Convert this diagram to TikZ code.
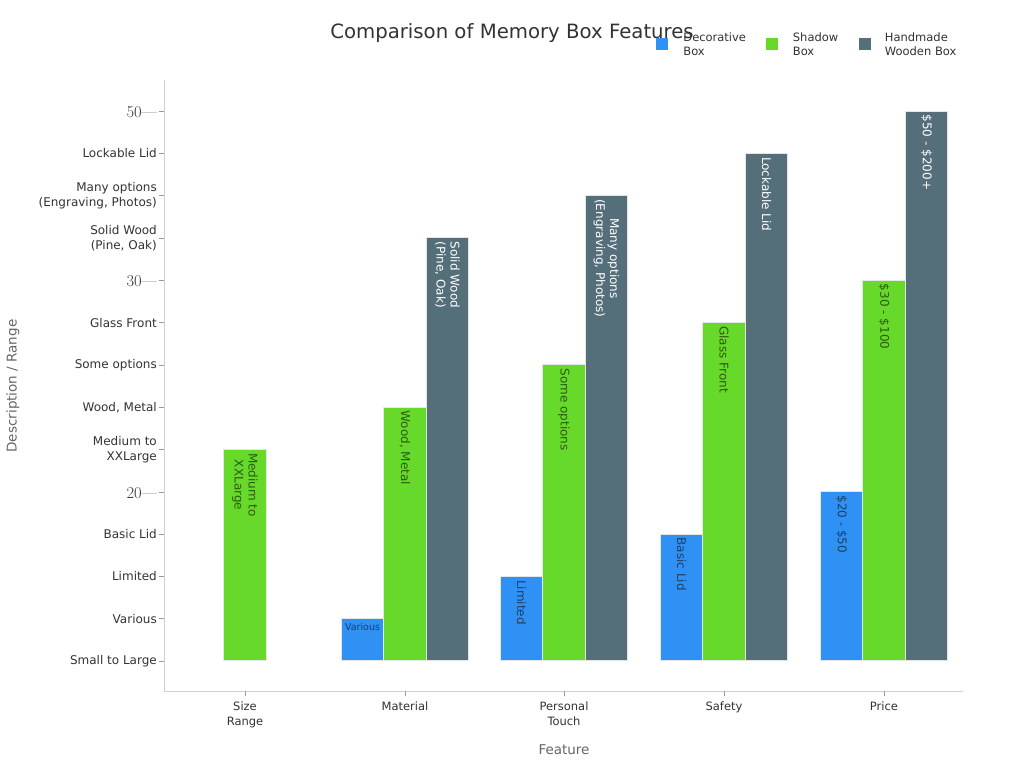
\documentclass[tikz,border=0pt]{standalone}
\usepackage{fontspec}
\usetikzlibrary{positioning}
\newfontfamily\dejavu{DejaVu Sans}
\definecolor{deco}{HTML}{3091F5}
\definecolor{shadow}{HTML}{66D92A}
\definecolor{hand}{HTML}{546E7A}
\definecolor{decotext}{HTML}{1E3F66}
\definecolor{shadowtext}{HTML}{2E5A14}
\definecolor{axisline}{HTML}{D0D0D0}
\definecolor{tickgray}{HTML}{999999}
\definecolor{darktext}{HTML}{333333}
\definecolor{softtext}{HTML}{666666}
\tikzset{
  bar/.style={draw={rgb,255:red,225;green,230;blue,232}, line width=0.6pt,
    minimum width=42.5pt, inner sep=0pt, anchor=south},
  barlabel/.style={rotate=-90, anchor=west, inner sep=0pt, align=center,
    font=\dejavu\fontsize{12}{14}\selectfont},
  ylab/.style={anchor=east, inner sep=0pt, align=right, text=darktext,
    font=\dejavu\fontsize{12}{15}\selectfont},
  ynum/.style={anchor=east, inner sep=0pt, text=darktext, font=\fontsize{16.5}{18}\selectfont},
  xlab/.style={anchor=north, inner sep=0pt, align=center, text=darktext,
    font=\dejavu\fontsize{11.5}{15}\selectfont},
  legbox/.style={minimum size=12pt, inner sep=0pt},
  legtext/.style={anchor=west, inner sep=0pt, align=left, text=darktext,
    font=\dejavu\fontsize{11.5}{14.5}\selectfont},
  tick/.style={tickgray, line width=0.6pt}
}
\begin{document}
\begin{tikzpicture}[x=1pt,y=-1pt]
  \useasboundingbox[fill=white] (0,0) rectangle (1024,768);

  % title and legend
  \node[text=darktext, font=\dejavu\fontsize{19.7}{22}\selectfont] (title) at (512,33) {Comparison of Memory Box Features};
  \node[legbox, fill=deco] (legdeco) at (662,44) {};
  \node[legtext, right=15pt of legdeco] (legdecotext) {Decorative\\Box};
  \node[legbox, fill=shadow] (legshadow) at (771.5,44) {};
  \node[legtext, right=15pt of legshadow] (legshadowtext) {Shadow\\Box};
  \node[legbox, fill=hand] (leghand) at (864.5,44) {};
  \node[legtext, right=14pt of leghand] (leghandtext) {Handmade\\Wooden Box};

  % axes
  \draw[axisline, line width=0.8pt] (164,80) -- (164,691) -- (963,691);

  % y ticks
  \begin{scope}[tick]
    \draw (159,661) -- (164,661);
    \draw (159,618.7) -- (164,618.7);
    \draw (159,576.4) -- (164,576.4);
    \draw (159,534.1) -- (164,534.1);
    \draw (159,491.8) -- (164,491.8);
    \draw (159,449.5) -- (164,449.5);
    \draw (159,407.2) -- (164,407.2);
    \draw (159,364.9) -- (164,364.9);
    \draw (159,322.6) -- (164,322.6);
    \draw (159,280.3) -- (164,280.3);
    \draw (159,238) -- (164,238);
    \draw (159,195.7) -- (164,195.7);
    \draw (159,153.4) -- (164,153.4);
    \draw (159,111.1) -- (164,111.1);
  \end{scope}
  \draw
    (157,661) node[ylab] (y0) {Small to Large}
    (157,618.7) node[ylab] (y1) {Various}
    (157,576.4) node[ylab] (y2) {Limited}
    (157,534.1) node[ylab] (y3) {Basic Lid}
    (157,493) node[ynum] (y4) {20---}
    (157,449.5) node[ylab] (y5) {Medium to\\XXLarge}
    (157,407.2) node[ylab] (y6) {Wood, Metal}
    (157,364.9) node[ylab] (y7) {Some options}
    (157,322.6) node[ylab] (y8) {Glass Front}
    (157,281.5) node[ynum] (y9) {30---}
    (157,238) node[ylab] (y10) {Solid Wood\\(Pine, Oak)}
    (157,195.7) node[ylab] (y11) {Many options\\(Engraving, Photos)}
    (157,153.4) node[ylab] (y12) {Lockable Lid}
    (157,112.3) node[ynum] (y13) {50---};

  % x ticks and labels
  \begin{scope}[tick]
    \draw (245,691) -- (245,696);
    \draw (405,691) -- (405,696);
    \draw (564,691) -- (564,696);
    \draw (724,691) -- (724,696);
    \draw (884,691) -- (884,696);
  \end{scope}
  \draw
    (245,702) node[xlab] (size) {Size\\Range}
    (405,702) node[xlab] (material) {Material}
    (564,702) node[xlab] (personal) {Personal\\Touch}
    (724,702) node[xlab] (safety) {Safety}
    (884,702) node[xlab] (price) {Price};

  % axis titles
  \node[text=softtext, font=\dejavu\fontsize{13.5}{16}\selectfont] (xtitle) at (564,750) {Feature};
  \node[text=softtext, rotate=90, font=\dejavu\fontsize{13.5}{16}\selectfont] (ytitle) at (13,386) {Description / Range};

  % bars
  \node[bar, fill=shadow, minimum height=211.5pt] (sizeshadow) at (245,661) {};
  \node[bar, fill=deco, minimum height=42.3pt] (matdeco) at (362.5,661) {};
  \node[bar, fill=shadow, minimum height=253.8pt] (matshadow) at (405,661) {};
  \node[bar, fill=hand, minimum height=423pt] (mathand) at (447.5,661) {};
  \node[bar, fill=deco, minimum height=84.6pt] (persdeco) at (521.5,661) {};
  \node[bar, fill=shadow, minimum height=296.1pt] (persshadow) at (564,661) {};
  \node[bar, fill=hand, minimum height=465.3pt] (pershand) at (606.5,661) {};
  \node[bar, fill=deco, minimum height=126.9pt] (safedeco) at (681.5,661) {};
  \node[bar, fill=shadow, minimum height=338.4pt] (safeshadow) at (724,661) {};
  \node[bar, fill=hand, minimum height=507.6pt] (safehand) at (766.5,661) {};
  \node[bar, fill=deco, minimum height=169.2pt] (pricedeco) at (841.5,661) {};
  \node[bar, fill=shadow, minimum height=380.7pt] (priceshadow) at (884,661) {};
  \node[bar, fill=hand, minimum height=549.9pt] (pricehand) at (926.5,661) {};

  % bar labels
  \node[barlabel, text=shadowtext] at ([yshift=-4pt]sizeshadow.north) {Medium to\\XXLarge};
  \node[text=decotext, inner sep=0pt, anchor=north, font=\dejavu\fontsize{9.5}{11}\selectfont]
    at ([yshift=-5pt]matdeco.north) {Various};
  \node[barlabel, text=shadowtext] at ([yshift=-4pt]matshadow.north) {Wood, Metal};
  \node[barlabel, text=white] at ([yshift=-4pt]mathand.north) {Solid Wood\\(Pine, Oak)};
  \node[barlabel, text=decotext] at ([yshift=-4pt]persdeco.north) {Limited};
  \node[barlabel, text=shadowtext] at ([yshift=-4pt]persshadow.north) {Some options};
  \node[barlabel, text=white] at ([yshift=-4pt]pershand.north) {Many options\\(Engraving, Photos)};
  \node[barlabel, text=decotext] at ([yshift=-4pt]safedeco.north) {Basic Lid};
  \node[barlabel, text=shadowtext] at ([yshift=-4pt]safeshadow.north) {Glass Front};
  \node[barlabel, text=white] at ([yshift=-4pt]safehand.north) {Lockable Lid};
  \node[barlabel, text=decotext] at ([yshift=-4pt]pricedeco.north) {\$20 - \$50};
  \node[barlabel, text=shadowtext] at ([yshift=-4pt]priceshadow.north) {\$30 - \$100};
  \node[barlabel, text=white] at ([yshift=-4pt]pricehand.north) {\$50 - \$200+};
\end{tikzpicture}
\end{document}
